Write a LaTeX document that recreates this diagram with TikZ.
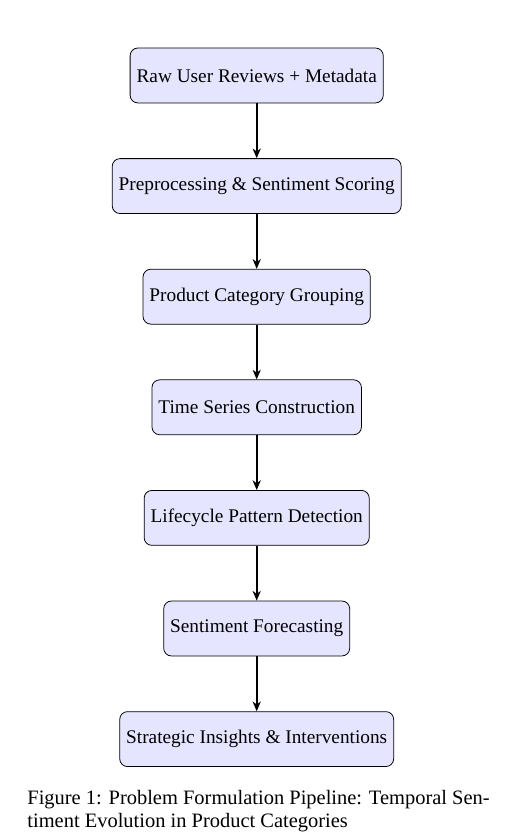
\documentclass[tikz,border=0pt]{standalone}
\usepackage{fontspec}
\setmainfont{Liberation Serif}
\usepackage{tikz}
\usetikzlibrary{shapes,arrows,arrows.meta,calc,positioning}
\tikzstyle{line} = [draw, line width=0.9pt, -{Stealth[length=5pt,width=4.2pt,inset=1.5pt]}]
\tikzstyle{stage} = [draw, rectangle, rounded corners, fill=blue!10, text centered, minimum height=1cm]
\tikzstyle{caption} = [align=left, inner sep=0pt, font=\fontsize{10.6pt}{12.2pt}\selectfont]

\begin{document}
\begin{tikzpicture}[node distance = 1cm, auto]
        \useasboundingbox (-133pt,39.1pt) rectangle (133.8pt,-395.6pt);
        \node[stage] (raw) {Raw User Reviews + Metadata};
        \node[stage, below=of raw] (prep) {Preprocessing \& Sentiment Scoring};
        \node[stage, below=of prep] (group) {Product Category Grouping};
        \node[stage, below=of group] (series) {Time Series Construction};
        \node[stage, below=of series] (cycle) {Lifecycle Pattern Detection};
        \node[stage, below=of cycle] (forecast) {Sentiment Forecasting};
        \node[stage, below=of forecast] (insight) {Strategic Insights \& Interventions};
        \node[caption, anchor=north west] (cap) at (-119pt,-370pt) {Figure 1: Problem Formulation Pipeline: Temporal Sen-\\timent Evolution in Product Categories};
        \path[line] (raw) -- (prep);
        \path[line] (prep) -- (group);
        \path[line] (group) -- (series);
        \path[line] (series) -- (cycle);
        \path[line] (cycle) -- (forecast);
        \path[line] (forecast) -- (insight);
    \end{tikzpicture}
\end{document}
